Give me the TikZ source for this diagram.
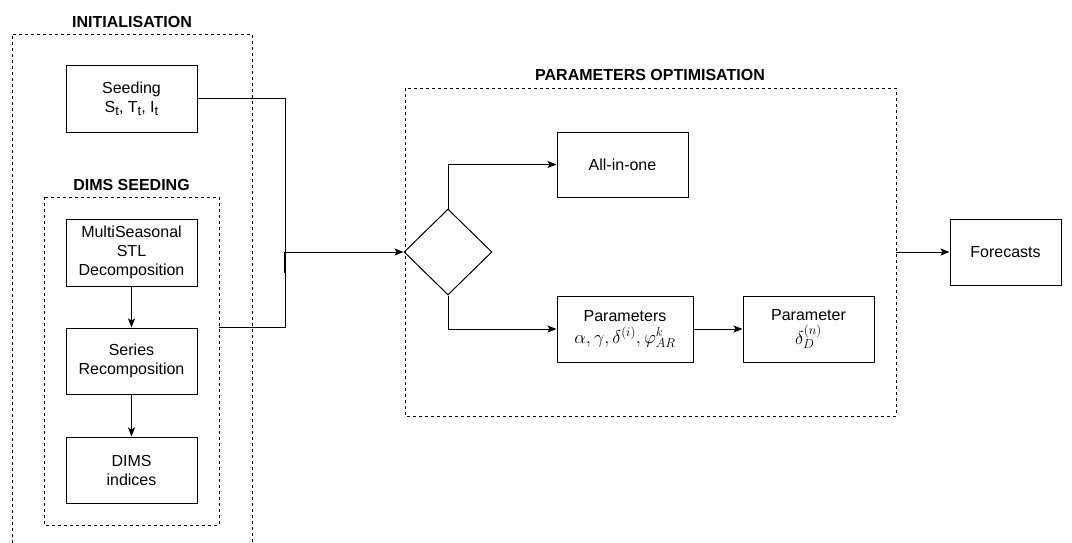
\RequirePackage{fix-cm}
\documentclass[tikz,border=0pt]{standalone}
\usepackage{fontspec}
\setmainfont{Liberation Sans}
\usetikzlibrary{arrows.meta}
\usetikzlibrary{shapes.geometric}

\newcommand{\sub}[1]{\raisebox{-3.5pt}{\fontsize{13}{13}\selectfont #1}}
\newcommand{\mathline}[1]{{\fontsize{18.5}{18.5}\selectfont #1}}

\begin{document}
\begin{tikzpicture} [x=1pt, y=-1pt, line width=1pt,
  box/.style={draw, rectangle, minimum width=131pt, minimum height=66pt, inner sep=2pt, align=center, font=\fontsize{16}{19}\selectfont},
  group/.style={draw, dash pattern=on 3pt off 3pt, line width=.8pt},
  grouplabel/.style={font=\fontsize{16}{19}\selectfont\bfseries},
  arr/.style={-{Stealth[length=9pt,width=7pt,inset=2pt]}}]
\useasboundingbox (0,0) rectangle (1072,543);

\draw[group] (12,543) |- (252,34) -- (252,543);
\node[grouplabel] (initlabel) at (132,22) {INITIALISATION};
\draw[group] (44,197) rectangle (219,525);
\node[grouplabel] (dimslabel) at (131.5,185) {DIMS SEEDING};
\draw[group] (405,88) rectangle (896,416);
\node[grouplabel] (optlabel) at (650,75) {PARAMETERS OPTIMISATION};

\node[box] (seed) at (131.5,99) {Seeding\\S\sub{t}, T\sub{t}, I\sub{t}};
\node[box, minimum height=67pt] (msd) at (131.5,252.5) {MultiSeasonal\\STL\\Decomposition};
\node[box] (rec) at (131.5,361) {Series\\Recomposition};
\node[box] (dims) at (131.5,470) {DIMS\\indices};
\draw[arr] (msd) -- (rec);
\draw[arr] (rec) -- (dims);

\coordinate (jn) at (285,252);
\coordinate (dimsout) at (219,327);
\draw (seed.east) -| (jn);
\draw (dimsout) -| (jn);
\draw[line width=2pt] (jn) -- ++(0,21);

\node[draw, diamond, minimum width=88pt, minimum height=86pt, inner sep=0pt] (choice) at (448,252) {};
\draw[arr] (jn) -- (choice.west);

\node[box, minimum height=65pt] (allone) at (622.5,164.5) {All-in-one};
\node[box, minimum width=136pt] (params) at (625,329) {Parameters\\[3pt]\mathline{$\alpha, \gamma, \delta^{(i)}, \varphi^{k}_{AR}$}};
\node[box] (paramd) at (808.5,329) {Parameter\\[3pt]\mathline{$\delta^{(n)}_{D}$}};
\draw[arr] (choice.north) |- (allone.west);
\draw[arr] (choice.south) |- (params.west);
\draw[arr] (params) -- (paramd);

\node[box, minimum width=111pt] (fcast) at (1005.5,252) {Forecasts};
\coordinate (optout) at (896,252);
\draw[arr] (optout) -- (fcast.west);

\end{tikzpicture}
\end{document}
